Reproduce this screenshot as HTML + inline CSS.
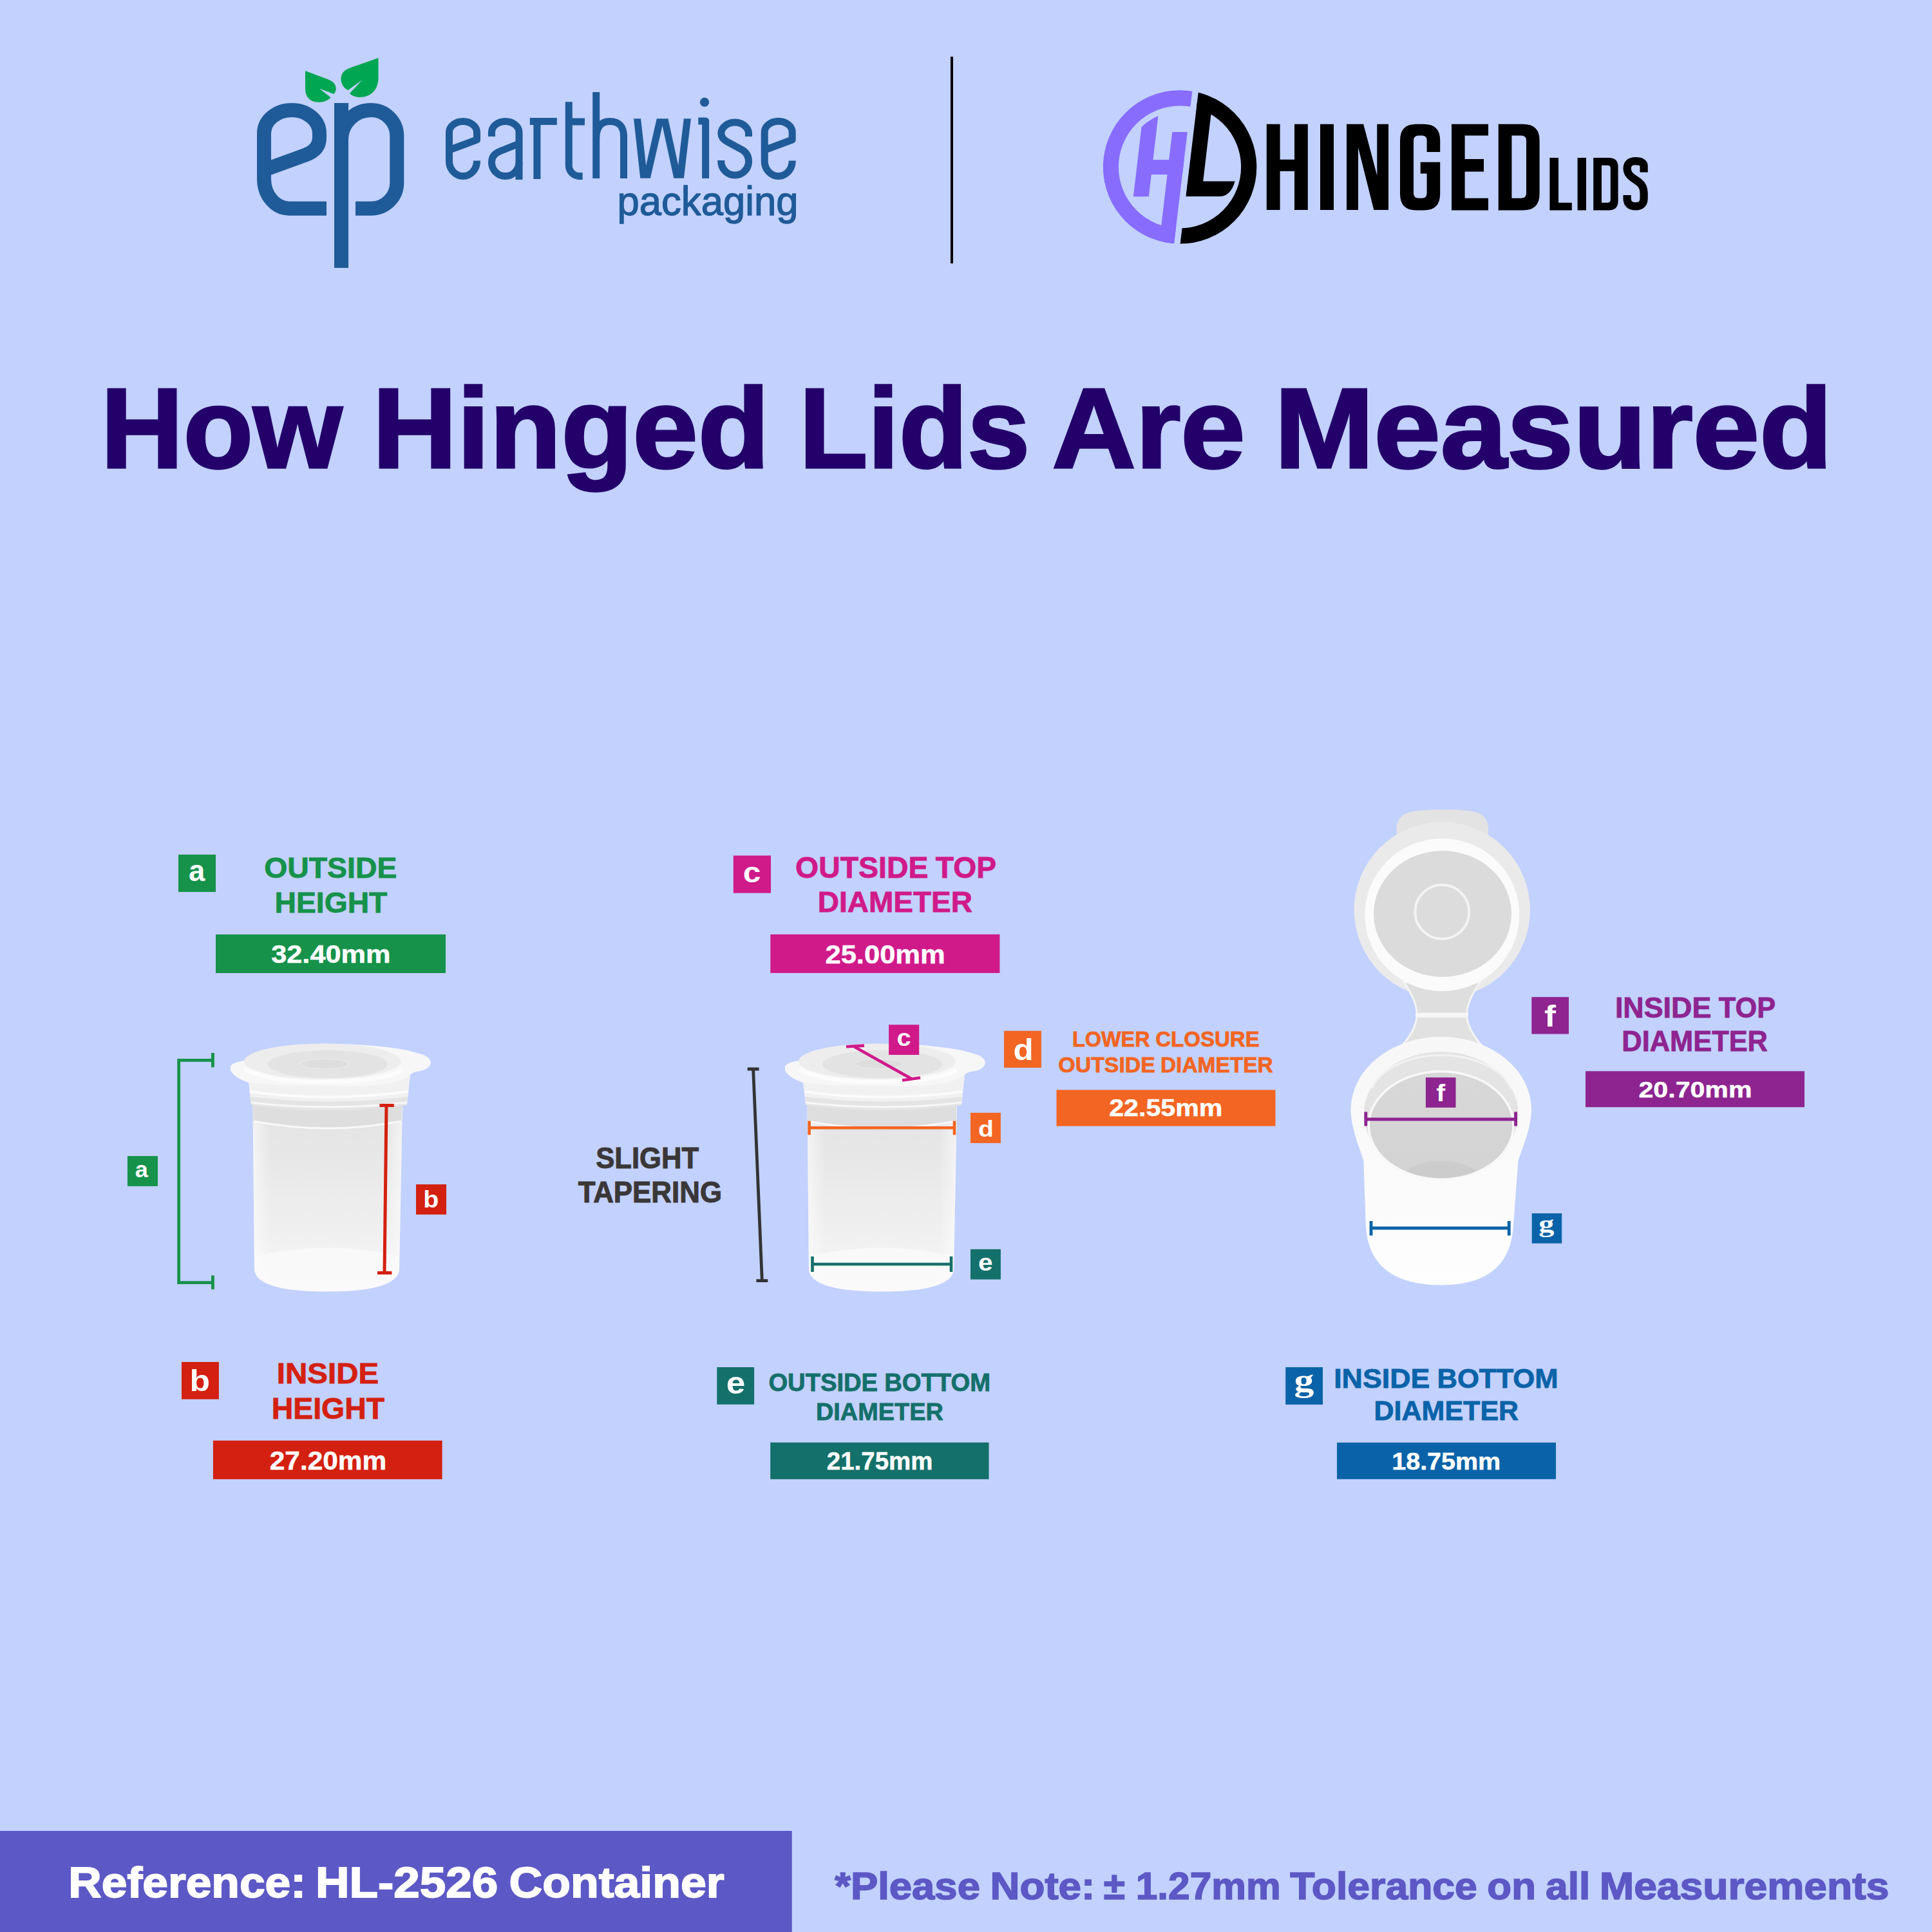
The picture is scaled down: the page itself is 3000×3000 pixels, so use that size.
<!DOCTYPE html><html><head><meta charset="utf-8"><title>How Hinged Lids Are Measured</title><style>html,body{margin:0;padding:0;background:#C2D1FE;overflow:hidden}svg{display:block}text{font-kerning:normal}</style></head><body>
<svg width="3000" height="3000" viewBox="0 0 3000 3000">
<rect x="0" y="0" width="3000" height="3000" fill="#C2D1FE"/>
<!-- ep logo -->
<g id="eplogo">
  <g fill="none" stroke="#1F5B98" stroke-width="22" stroke-linecap="butt" stroke-linejoin="round">
    <path d="M507 323.7 H449 A39 46 0 0 1 410 277.7 V207 A43 36 0 0 1 496 207 V214 Q496 232 476 240 L410 264"/>
    <path d="M552 323.7 H576.3 A40 40 0 0 0 616.3 283.7 V211 A40 40 0 0 0 576.3 171 H576 A46 46 0 0 0 530 217"/>
  </g>
  <rect x="519" y="160" width="22" height="256" fill="#1F5B98"/>
  <g fill="#00A651">
    <path d="M474 110 L511 124 C523 128.5 524 140 518.5 146 L496 137.5 L513.5 151.5 C507 158.5 494 161 484 156.5 C477 152.5 474 146 474 137 Z"/>
    <path d="M587.5 90 V121 C587.5 139 576 151 559 151 C552 151 546 148.5 543 145 L562.5 124 L540.5 140 C531.5 136 528 126 530 118 C532 111 537 107.5 546 104.5 Z"/>
  </g>
</g>
<!-- earthwise -->
<g id="earthwise" fill="none" stroke="#1F5B98" stroke-width="11" stroke-linecap="butt" stroke-linejoin="round">
  <path d="M740.5 249.5 V250 A21.5 23.5 0 0 1 719 273.5 A21.5 23.5 0 0 1 697.5 250 V205.5 A21.5 17 0 0 1 740.5 205.5 V217 L697.5 233"/>
  <path d="M763.5 212 V205.5 A21.2 17 0 0 1 806 205.5 V279"/>
  <path d="M806 223 L776 235 Q763.5 240 763.5 252 A21 21.5 0 0 0 785 273.5 A21 22 0 0 0 806 252"/>
  <path d="M822.8 188.5 H864.8 M833.9 183 V278"/>
  <path d="M883.3 158.3 V257 A16.5 16.5 0 0 0 899.8 273.5 H904.6 M883.3 189 H908"/>
  <path d="M925.7 143 V277 M925.7 216 Q925.7 188.5 947 188.5 Q968.5 188.5 968.5 212 V277"/>
  <g clip-path="url(#wclip)"><path d="M988 170 L1001.2 290 L1028.7 170 L1054.8 290 L1069 170" stroke-linejoin="miter"/></g>
  <path d="M1084.3 188 H1095.6 V277"/>
  <path d="M1162.5 212 V206.5 A21.4 17.7 0 0 0 1119.8 206.5 Q1119.8 215 1129 220 L1153 233 Q1162.5 239 1162.5 251 V252 A21.4 21.5 0 0 1 1119.8 252 V249"/>
  <path d="M1230.2 249.5 V250 A21.5 23.5 0 0 1 1208.7 273.5 A21.5 23.5 0 0 1 1187.2 250 V205.3 A21.5 17 0 0 1 1230.2 205.3 V217 L1187.2 233"/>
</g>
<circle cx="1094" cy="158.7" r="7.1" fill="#1F5B98"/>
<clipPath id="wclip"><rect x="970" y="184.3" width="120" height="92.4"/></clipPath>
<!-- divider -->
<rect x="1476" y="88" width="4" height="321" fill="#000"/>
<!-- HL logo -->
<clipPath id="hlleft"><path d="M1600 100 L1856.35 100 L1820.46 400 L1600 400 Z"/></clipPath>
<clipPath id="hlright"><path d="M1865.95 100 L2000 100 L2000 400 L1830.06 400 Z"/></clipPath>
<clipPath id="hlouter"><circle cx="1832" cy="259.3" r="119.3"/></clipPath>
<clipPath id="hlinner"><circle cx="1832" cy="259.3" r="86"/><rect x="1700" y="259" width="200" height="100"/></clipPath>
<g clip-path="url(#hlleft)">
 <g clip-path="url(#hlouter)" fill="#876CFE">
  <circle cx="1832" cy="259.3" r="107.2" fill="none" stroke="#876CFE" stroke-width="24.2"/>
  <path d="M1759.9 305.2 L1783.8 305.2 L1798.6 178.8 L1774.7 178.8 Z" clip-path="url(#hlinner)"/>
  <rect x="1770" y="248.2" width="80" height="22.8"/>
  <path d="M1820.3 205 L1900 205 L1900 390 L1798.6 390 Z"/>
 </g>
</g>
<g clip-path="url(#hlright)" fill="#000">
  <circle cx="1832" cy="259.3" r="107.2" fill="none" stroke="#000" stroke-width="24.2"/>
  <path d="M1820 160 L1882.5 160 L1868.2 281.4 L1917.6 281.4 Q1911 305.1 1893 305.1 L1820 305.1 Z"/>
</g>
<!-- HINGED LIDS -->
<g fill="#000">
  <path d="M1966.8 192.8 H1987.6 V247.7 H2010 V192.8 H2030.8 V326 H2010 V265.7 H1987.6 V326 H1966.8 Z"/>
  <rect x="2050" y="192.8" width="21" height="133.2"/>
  <path d="M2091 192.8 H2117.1 L2138.3 272.5 V192.8 H2156 V326 H2133.3 L2109 229 V326 H2091 Z"/>
  <path d="M2199 192.8 H2211 Q2236.2 192.8 2236.2 218 V236 H2215.6 V218 Q2215.6 210.5 2208 210.5 H2203 Q2195 210.5 2195 218 V300 Q2195 307.8 2203 307.8 H2208 Q2215.6 307.8 2215.6 300 V269.5 H2205.7 V251.8 H2236.2 V301 Q2236.2 326.5 2211 326.5 H2199 Q2174 326.5 2174 301 V218 Q2174 192.8 2199 192.8 Z"/>
  <path d="M2254 192.8 H2311 V210.5 H2274.6 V246.9 H2304 V266.5 H2274.6 V307.8 H2311 V326.5 H2254 Z"/>
  <path fill-rule="evenodd" d="M2326.7 192.8 H2365 Q2390.6 192.8 2390.6 218 V301 Q2390.6 326.5 2365 326.5 H2326.7 Z M2347.4 210.5 V307.8 H2362 Q2370 307.8 2370 300 V218 Q2370 210.5 2362 210.5 Z"/>
  <path d="M2406.4 245 H2420 V314.7 H2440.8 V326.5 H2406.4 Z"/>
  <rect x="2449.6" y="245" width="13.4" height="81.5"/>
  <path fill-rule="evenodd" d="M2474.2 245 H2498 Q2512.6 245 2512.6 259 V312 Q2512.6 326.5 2498 326.5 H2474.2 Z M2487 256.7 V314.7 H2496 Q2500.8 314.7 2500.8 310 V261 Q2500.8 256.7 2496 256.7 Z"/>
</g>
<path d="M2552.6 267.5 V258 Q2552.6 250.2 2539.6 250.2 Q2526.6 250.2 2526.6 262 Q2526.6 270 2535 276 L2545 283 Q2552.6 289 2552.6 300 V308 Q2552.6 320.3 2539.6 320.3 Q2526.6 320.3 2526.6 308 V303" fill="none" stroke="#000" stroke-width="12.3"/>
<defs>
  <linearGradient id="bodyg" x1="0" y1="0" x2="0" y2="1">
    <stop offset="0" stop-color="#E3E3E3"/>
    <stop offset="0.3" stop-color="#E8E8E8"/>
    <stop offset="0.7" stop-color="#F0F0F0"/>
    <stop offset="1" stop-color="#F8F8F8"/>
  </linearGradient>
  <linearGradient id="bodyh" x1="0" y1="0" x2="1" y2="0">
    <stop offset="0" stop-color="#FFFFFF" stop-opacity="0.55"/>
    <stop offset="0.12" stop-color="#FFFFFF" stop-opacity="0"/>
    <stop offset="0.88" stop-color="#FFFFFF" stop-opacity="0"/>
    <stop offset="1" stop-color="#FFFFFF" stop-opacity="0.55"/>
  </linearGradient>
  <linearGradient id="c3body" x1="0" y1="0" x2="0" y2="1">
    <stop offset="0" stop-color="#F7F7F7"/>
    <stop offset="0.5" stop-color="#FAFAFA"/>
    <stop offset="1" stop-color="#FEFEFE"/>
  </linearGradient>
  <linearGradient id="c3in" x1="0" y1="0" x2="0" y2="1">
    <stop offset="0" stop-color="#D8D8D8"/>
    <stop offset="1" stop-color="#D3D3D3"/>
  </linearGradient>
</defs>
<g id="cont1">
  <path d="M392.5 1718 L395 1971 Q398 2005.5 508 2005.5 Q617 2005.5 620 1971 L625 1718 Z" fill="url(#bodyg)"/>
  <path d="M392.5 1718 L395 1971 Q398 2005.5 508 2005.5 Q617 2005.5 620 1971 L625 1718 Z" fill="url(#bodyh)"/>
  <path d="M398 1950 Q508 1925 618 1950 L620 1971 Q617 2005.5 508 2005.5 Q398 2005.5 395 1971 Z" fill="#FAFAFA" opacity="0.8"/>
  <path d="M393 1712 L624 1712 L624 1742 Q508 1764 393 1742 Z" fill="#DEDEDE"/>
  <path d="M394 1741 Q508 1763 623 1741" fill="none" stroke="#F8F8F8" stroke-width="3"/>
  <path d="M385.3 1675 L637 1670 L632 1716 Q508 1731 390 1716 Z" fill="#F1F1F1"/>
  <path d="M389 1703 Q508 1718 633 1703 L632 1716 Q508 1731 390 1716 Z" fill="#E4E4E4"/>
  <path d="M388 1695 Q508 1712 634 1695" fill="none" stroke="#FBFBFB" stroke-width="4"/>
  <path d="M390 1712 Q508 1726 632 1712" fill="none" stroke="#F7F7F7" stroke-width="3"/>
  <path d="M358 1656 Q360 1650 379 1647 Q420 1622 503 1620.8 Q580 1621 631.7 1630.8 L655 1637 Q668.8 1642 668.8 1651 Q667 1662 645 1664.3 L639 1667 Q620 1690 503 1686 Q420 1686 384 1680.6 Q362 1672 358 1662 Z" fill="#F7F7F7"/>
  <ellipse cx="500.8" cy="1648" rx="121.8" ry="27.6" fill="#EDEDED"/>
  <ellipse cx="509" cy="1652.5" rx="93" ry="21.7" fill="#E3E3E3"/>
  <ellipse cx="504" cy="1652" rx="37" ry="7.7" fill="#DDDDDD" stroke="#E9E9E9" stroke-width="1.5"/>
  <path d="M380 1660 Q420 1681 503 1680 Q590 1680 625 1662" fill="none" stroke="#FCFCFC" stroke-width="6"/>
</g>
<use href="#cont1" x="861" y="0"/>
<g id="cont3">
  <path d="M2168.5 1310 V1285 Q2170 1262 2200 1259 Q2240 1255 2280 1259 Q2310 1262 2311 1285 V1310 Z" fill="#E3E3E3"/>
  <circle cx="2239.3" cy="1413" r="136.7" fill="#EAEAEA"/>
  <path d="M2180 1525 Q2200 1555 2200 1574 L2277.7 1574 Q2278 1555 2298 1525 Z" fill="#DEDEDE" stroke="#F4F4F4" stroke-width="3"/>
  <path d="M2200 1579 Q2198 1600 2176 1625 L2302 1625 Q2280 1600 2277.7 1579 Z" fill="#E1E1E1" stroke="#F4F4F4" stroke-width="3"/>
  <rect x="2198" y="1573" width="82" height="6" fill="#F6F6F6"/>
  <ellipse cx="2239.3" cy="1420.5" rx="120" ry="118.5" fill="#FBFBFB"/>
  <ellipse cx="2240" cy="1419" rx="107" ry="98" fill="#DBDBDB"/>
  <circle cx="2239.3" cy="1416" r="42" fill="#DCDCDC" stroke="#F3F3F3" stroke-width="4"/>
  <path d="M2097.5 1723 A140 113 0 0 1 2378 1723 C2378 1750 2365 1780 2357.5 1802 L2350 1902 Q2345 1995.5 2238.4 1995.5 Q2125 1995.5 2120.8 1902 L2117.3 1802 C2110 1780 2097.5 1750 2097.5 1723 Z" fill="url(#c3body)"/>
  <ellipse cx="2237.7" cy="1730" rx="120" ry="97" fill="#E4E4E4"/>
  <path d="M2130 1690 A112 70 0 0 1 2346 1690" fill="none" stroke="#F2F2F2" stroke-width="3"/>
  <clipPath id="c3open"><ellipse cx="2237.7" cy="1747.5" rx="112.3" ry="83.8"/></clipPath>
  <ellipse cx="2237.7" cy="1747.5" rx="112.3" ry="83.8" fill="url(#c3in)"/>
  <g clip-path="url(#c3open)"><ellipse cx="2238" cy="1830" rx="60" ry="27" fill="#CCCCCC"/></g>
  <ellipse cx="2237.7" cy="1747.5" rx="112.3" ry="83.8" fill="none" stroke="#F8F8F8" stroke-width="3.5"/>
</g>
<!-- bars -->
<rect x="335" y="1451" width="357" height="60" fill="#16924A"/>
<rect x="330.9" y="2236.9" width="355.7" height="60" fill="#D42010"/>
<rect x="1196.3" y="1450.9" width="356.1" height="60" fill="#D01A8A"/>
<rect x="1640.5" y="1692.4" width="340" height="56.2" fill="#F26522"/>
<rect x="1196.2" y="2239.9" width="339.3" height="57" fill="#14706A"/>
<rect x="2462" y="1663.3" width="340" height="55.9" fill="#8E2490"/>
<rect x="2076" y="2240" width="340" height="56.8" fill="#0A63A8"/>
<!-- badges -->
<rect x="277" y="1327" width="58" height="58" fill="#16924A"/>
<rect x="282" y="2114.9" width="57.9" height="57.8" fill="#D42010"/>
<rect x="1138.8" y="1328.5" width="58.2" height="58.2" fill="#D01A8A"/>
<rect x="1559" y="1600.7" width="57.9" height="57.2" fill="#F26522"/>
<rect x="1113.3" y="2123" width="57.8" height="57.8" fill="#14706A"/>
<rect x="2378.3" y="1548.2" width="57.7" height="57.4" fill="#8E2490"/>
<rect x="1996.2" y="2123" width="57.8" height="58" fill="#0A63A8"/>
<rect x="197.9" y="1795.1" width="47.1" height="46.8" fill="#16924A"/>
<rect x="646" y="1839.1" width="47" height="46.8" fill="#D42010"/>
<rect x="1380.1" y="1591.2" width="47.1" height="46.8" fill="#D01A8A"/>
<rect x="1507" y="1727.9" width="46.9" height="47.1" fill="#F26522"/>
<rect x="1507" y="1939.8" width="46.9" height="46.9" fill="#14706A"/>
<rect x="2213.9" y="1673.1" width="46.6" height="46.7" fill="#8E2490"/>
<rect x="2378.7" y="1884.1" width="46.5" height="46.6" fill="#0A63A8"/>
<!-- measurement lines -->
<g fill="none" stroke-linecap="butt">
  <path d="M330.4 1646.45 H277.6 V1991.6 H330.4" stroke="#16924A" stroke-width="4.8"/>
  <path d="M330.4 1634.9 V1657.3 M330.4 1980.6 V2002" stroke="#16924A" stroke-width="4.8"/>
  <path d="M600 1716.6 L597 1976.5" stroke="#D42010" stroke-width="5"/>
  <path d="M589.4 1716.6 H611.8 M586 1976.5 H608.4" stroke="#D42010" stroke-width="5"/>
  <path d="M1326.8 1625.4 L1415.6 1675.2" stroke="#D01A8A" stroke-width="4.6"/>
  <path d="M1314 1625.2 L1342 1623.6 M1401 1677.6 L1429 1673.4" stroke="#D01A8A" stroke-width="4.6"/>
  <path d="M1256 1751.3 H1483" stroke="#F26522" stroke-width="4.6"/>
  <path d="M1256.6 1740.4 V1762.2 M1482 1740.4 V1762.2" stroke="#F26522" stroke-width="4.6"/>
  <path d="M1261 1963 H1478" stroke="#14706A" stroke-width="4.6"/>
  <path d="M1261.5 1951 V1975 M1477 1951 V1975" stroke="#14706A" stroke-width="4.6"/>
  <path d="M1169.6 1660 L1183.3 1988.6" stroke="#333333" stroke-width="4.8"/>
  <path d="M1160.7 1660 H1178.6 M1174.4 1988.6 H1192.3" stroke="#333333" stroke-width="4.8"/>
  <path d="M2120.8 1738 H2354" stroke="#8E2490" stroke-width="5"/>
  <path d="M2120.8 1726.5 V1748.6 M2353.6 1726.5 V1748.6" stroke="#8E2490" stroke-width="4.8"/>
  <path d="M2129 1907 H2343.5" stroke="#0A63A8" stroke-width="5"/>
  <path d="M2129 1896 V1918.6 M2343.2 1896 V1918.6" stroke="#0A63A8" stroke-width="4.8"/>
</g>
<!-- footer -->
<rect x="0" y="2843" width="1229.7" height="157" fill="#5C58C5"/>

<text id="t_tw1" x="156.62" y="726.25" font-family="&quot;Liberation Sans&quot;, sans-serif" font-weight="bold" font-size="176.602" fill="#23006A" stroke="#23006A" stroke-width="3.5" stroke-linejoin="miter" stroke-miterlimit="2" textLength="374.73" lengthAdjust="spacingAndGlyphs" xml:space="preserve">How</text>
<text id="t_tw2" x="578.31" y="726.25" font-family="&quot;Liberation Sans&quot;, sans-serif" font-weight="bold" font-size="176.602" fill="#23006A" stroke="#23006A" stroke-width="3.5" stroke-linejoin="miter" stroke-miterlimit="2" textLength="616.71" lengthAdjust="spacingAndGlyphs" xml:space="preserve">Hinged</text>
<text id="t_tw3" x="1241.05" y="726.25" font-family="&quot;Liberation Sans&quot;, sans-serif" font-weight="bold" font-size="176.602" fill="#23006A" stroke="#23006A" stroke-width="3.5" stroke-linejoin="miter" stroke-miterlimit="2" textLength="358.17" lengthAdjust="spacingAndGlyphs" xml:space="preserve">Lids</text>
<text id="t_tw4" x="1633.81" y="726.25" font-family="&quot;Liberation Sans&quot;, sans-serif" font-weight="bold" font-size="176.602" fill="#23006A" stroke="#23006A" stroke-width="3.5" stroke-linejoin="miter" stroke-miterlimit="2" textLength="299.65" lengthAdjust="spacingAndGlyphs" xml:space="preserve">Are</text>
<text id="t_tw5" x="1979.06" y="726.25" font-family="&quot;Liberation Sans&quot;, sans-serif" font-weight="bold" font-size="176.602" fill="#23006A" stroke="#23006A" stroke-width="3.5" stroke-linejoin="miter" stroke-miterlimit="2" textLength="866.30" lengthAdjust="spacingAndGlyphs" xml:space="preserve">Measured</text>
<text id="t_a1" x="410.27" y="1362.50" font-family="&quot;Liberation Sans&quot;, sans-serif" font-weight="bold" font-size="44.768" fill="#16924A" stroke="#16924A" stroke-width="0.8" stroke-linejoin="miter" stroke-miterlimit="2" textLength="206.04" lengthAdjust="spacingAndGlyphs" xml:space="preserve">OUTSIDE</text>
<text id="t_a2" x="426.52" y="1416.60" font-family="&quot;Liberation Sans&quot;, sans-serif" font-weight="bold" font-size="45.059" fill="#16924A" stroke="#16924A" stroke-width="0.8" stroke-linejoin="miter" stroke-miterlimit="2" textLength="174.88" lengthAdjust="spacingAndGlyphs" xml:space="preserve">HEIGHT</text>
<text id="t_a3" x="421.24" y="1494.95" font-family="&quot;Liberation Sans&quot;, sans-serif" font-weight="bold" font-size="39.671" fill="#FFFFFF" stroke="#FFFFFF" stroke-width="0.5" stroke-linejoin="miter" stroke-miterlimit="2" textLength="185.23" lengthAdjust="spacingAndGlyphs" xml:space="preserve">32.40mm</text>
<text id="t_ab" x="293.01" y="1368.15" font-family="&quot;Liberation Sans&quot;, sans-serif" font-weight="bold" font-size="46.363" fill="#FFFFFF" textLength="25.25" lengthAdjust="spacingAndGlyphs" xml:space="preserve">a</text>
<text id="t_b1" x="429.86" y="2148.40" font-family="&quot;Liberation Sans&quot;, sans-serif" font-weight="bold" font-size="45.059" fill="#D42010" stroke="#D42010" stroke-width="0.8" stroke-linejoin="miter" stroke-miterlimit="2" textLength="158.26" lengthAdjust="spacingAndGlyphs" xml:space="preserve">INSIDE</text>
<text id="t_b2" x="421.76" y="2202.60" font-family="&quot;Liberation Sans&quot;, sans-serif" font-weight="bold" font-size="45.350" fill="#D42010" stroke="#D42010" stroke-width="0.8" stroke-linejoin="miter" stroke-miterlimit="2" textLength="175.33" lengthAdjust="spacingAndGlyphs" xml:space="preserve">HEIGHT</text>
<text id="t_b3" x="418.69" y="2282.35" font-family="&quot;Liberation Sans&quot;, sans-serif" font-weight="bold" font-size="40.244" fill="#FFFFFF" stroke="#FFFFFF" stroke-width="0.5" stroke-linejoin="miter" stroke-miterlimit="2" textLength="181.64" lengthAdjust="spacingAndGlyphs" xml:space="preserve">27.20mm</text>
<text id="t_bb" x="294.53" y="2160.35" font-family="&quot;Liberation Sans&quot;, sans-serif" font-weight="bold" font-size="46.026" fill="#FFFFFF" textLength="31.49" lengthAdjust="spacingAndGlyphs" xml:space="preserve">b</text>
<text id="t_c1a" x="1235.10" y="1362.60" font-family="&quot;Liberation Sans&quot;, sans-serif" font-weight="bold" font-size="45.495" fill="#D01A8A" stroke="#D01A8A" stroke-width="0.8" stroke-linejoin="miter" stroke-miterlimit="2" textLength="206.27" lengthAdjust="spacingAndGlyphs" xml:space="preserve">OUTSIDE</text>
<text id="t_c1b" x="1452.87" y="1362.60" font-family="&quot;Liberation Sans&quot;, sans-serif" font-weight="bold" font-size="45.495" fill="#D01A8A" stroke="#D01A8A" stroke-width="0.8" stroke-linejoin="miter" stroke-miterlimit="2" textLength="94.07" lengthAdjust="spacingAndGlyphs" xml:space="preserve">TOP</text>
<text id="t_c2" x="1269.83" y="1416.30" font-family="&quot;Liberation Sans&quot;, sans-serif" font-weight="bold" font-size="44.768" fill="#D01A8A" stroke="#D01A8A" stroke-width="0.8" stroke-linejoin="miter" stroke-miterlimit="2" textLength="240.09" lengthAdjust="spacingAndGlyphs" xml:space="preserve">DIAMETER</text>
<text id="t_c3" x="1281.48" y="1496.45" font-family="&quot;Liberation Sans&quot;, sans-serif" font-weight="bold" font-size="40.817" fill="#FFFFFF" stroke="#FFFFFF" stroke-width="0.5" stroke-linejoin="miter" stroke-miterlimit="2" textLength="186.26" lengthAdjust="spacingAndGlyphs" xml:space="preserve">25.00mm</text>
<text id="t_cb" x="1153.68" y="1369.98" font-family="&quot;Liberation Sans&quot;, sans-serif" font-weight="bold" font-size="43.442" fill="#FFFFFF" textLength="27.65" lengthAdjust="spacingAndGlyphs" xml:space="preserve">c</text>
<text id="t_d1a" x="1665.08" y="1625.40" font-family="&quot;Liberation Sans&quot;, sans-serif" font-weight="bold" font-size="33.722" fill="#F26522" stroke="#F26522" stroke-width="0.8" stroke-linejoin="miter" stroke-miterlimit="2" textLength="120.50" lengthAdjust="spacingAndGlyphs" xml:space="preserve">LOWER</text>
<text id="t_d1b" x="1794.14" y="1625.40" font-family="&quot;Liberation Sans&quot;, sans-serif" font-weight="bold" font-size="33.722" fill="#F26522" stroke="#F26522" stroke-width="0.8" stroke-linejoin="miter" stroke-miterlimit="2" textLength="161.58" lengthAdjust="spacingAndGlyphs" xml:space="preserve">CLOSURE</text>
<text id="t_d2a" x="1643.32" y="1664.60" font-family="&quot;Liberation Sans&quot;, sans-serif" font-weight="bold" font-size="33.722" fill="#F26522" stroke="#F26522" stroke-width="0.8" stroke-linejoin="miter" stroke-miterlimit="2" textLength="150.61" lengthAdjust="spacingAndGlyphs" xml:space="preserve">OUTSIDE</text>
<text id="t_d2b" x="1801.93" y="1664.60" font-family="&quot;Liberation Sans&quot;, sans-serif" font-weight="bold" font-size="33.722" fill="#F26522" stroke="#F26522" stroke-width="0.8" stroke-linejoin="miter" stroke-miterlimit="2" textLength="174.84" lengthAdjust="spacingAndGlyphs" xml:space="preserve">DIAMETER</text>
<text id="t_d3" x="1722.17" y="1733.35" font-family="&quot;Liberation Sans&quot;, sans-serif" font-weight="bold" font-size="36.807" fill="#FFFFFF" stroke="#FFFFFF" stroke-width="0.5" stroke-linejoin="miter" stroke-miterlimit="2" textLength="176.35" lengthAdjust="spacingAndGlyphs" xml:space="preserve">22.55mm</text>
<text id="t_db" x="1573.51" y="1645.55" font-family="&quot;Liberation Sans&quot;, sans-serif" font-weight="bold" font-size="46.298" fill="#FFFFFF" textLength="31.25" lengthAdjust="spacingAndGlyphs" xml:space="preserve">d</text>
<text id="t_e1a" x="1193.40" y="2160.40" font-family="&quot;Liberation Sans&quot;, sans-serif" font-weight="bold" font-size="38.082" fill="#14706A" stroke="#14706A" stroke-width="0.8" stroke-linejoin="miter" stroke-miterlimit="2" textLength="169.67" lengthAdjust="spacingAndGlyphs" xml:space="preserve">OUTSIDE</text>
<text id="t_e1b" x="1373.20" y="2160.40" font-family="&quot;Liberation Sans&quot;, sans-serif" font-weight="bold" font-size="38.082" fill="#14706A" stroke="#14706A" stroke-width="0.8" stroke-linejoin="miter" stroke-miterlimit="2" textLength="164.90" lengthAdjust="spacingAndGlyphs" xml:space="preserve">BOTTOM</text>
<text id="t_e2" x="1266.99" y="2205.40" font-family="&quot;Liberation Sans&quot;, sans-serif" font-weight="bold" font-size="37.210" fill="#14706A" stroke="#14706A" stroke-width="0.8" stroke-linejoin="miter" stroke-miterlimit="2" textLength="197.79" lengthAdjust="spacingAndGlyphs" xml:space="preserve">DIAMETER</text>
<text id="t_e3" x="1283.86" y="2282.35" font-family="&quot;Liberation Sans&quot;, sans-serif" font-weight="bold" font-size="38.955" fill="#FFFFFF" stroke="#FFFFFF" stroke-width="0.5" stroke-linejoin="miter" stroke-miterlimit="2" textLength="164.47" lengthAdjust="spacingAndGlyphs" xml:space="preserve">21.75mm</text>
<text id="t_eb" x="1127.83" y="2164.44" font-family="&quot;Liberation Sans&quot;, sans-serif" font-weight="bold" font-size="47.458" fill="#FFFFFF" textLength="29.55" lengthAdjust="spacingAndGlyphs" xml:space="preserve">e</text>
<text id="t_f1a" x="2507.93" y="1579.50" font-family="&quot;Liberation Sans&quot;, sans-serif" font-weight="bold" font-size="43.605" fill="#8E2490" stroke="#8E2490" stroke-width="0.8" stroke-linejoin="miter" stroke-miterlimit="2" textLength="149.35" lengthAdjust="spacingAndGlyphs" xml:space="preserve">INSIDE</text>
<text id="t_f1b" x="2668.84" y="1579.50" font-family="&quot;Liberation Sans&quot;, sans-serif" font-weight="bold" font-size="43.605" fill="#8E2490" stroke="#8E2490" stroke-width="0.8" stroke-linejoin="miter" stroke-miterlimit="2" textLength="88.29" lengthAdjust="spacingAndGlyphs" xml:space="preserve">TOP</text>
<text id="t_f2" x="2518.29" y="1631.60" font-family="&quot;Liberation Sans&quot;, sans-serif" font-weight="bold" font-size="43.896" fill="#8E2490" stroke="#8E2490" stroke-width="0.8" stroke-linejoin="miter" stroke-miterlimit="2" textLength="226.67" lengthAdjust="spacingAndGlyphs" xml:space="preserve">DIAMETER</text>
<text id="t_f3" x="2544.49" y="1704.05" font-family="&quot;Liberation Sans&quot;, sans-serif" font-weight="bold" font-size="35.947" fill="#FFFFFF" stroke="#FFFFFF" stroke-width="0.5" stroke-linejoin="miter" stroke-miterlimit="2" textLength="175.98" lengthAdjust="spacingAndGlyphs" xml:space="preserve">20.70mm</text>
<text id="t_fb" x="2398.06" y="1594.00" font-family="&quot;Liberation Sans&quot;, sans-serif" font-weight="bold" font-size="46.922" fill="#FFFFFF" textLength="17.98" lengthAdjust="spacingAndGlyphs" xml:space="preserve">f</text>
<text id="t_g1a" x="2071.19" y="2154.50" font-family="&quot;Liberation Sans&quot;, sans-serif" font-weight="bold" font-size="42.297" fill="#0A63A8" stroke="#0A63A8" stroke-width="0.8" stroke-linejoin="miter" stroke-miterlimit="2" textLength="149.12" lengthAdjust="spacingAndGlyphs" xml:space="preserve">INSIDE</text>
<text id="t_g1b" x="2231.44" y="2154.50" font-family="&quot;Liberation Sans&quot;, sans-serif" font-weight="bold" font-size="42.297" fill="#0A63A8" stroke="#0A63A8" stroke-width="0.8" stroke-linejoin="miter" stroke-miterlimit="2" textLength="188.09" lengthAdjust="spacingAndGlyphs" xml:space="preserve">BOTTOM</text>
<text id="t_g2" x="2133.57" y="2205.40" font-family="&quot;Liberation Sans&quot;, sans-serif" font-weight="bold" font-size="42.152" fill="#0A63A8" stroke="#0A63A8" stroke-width="0.8" stroke-linejoin="miter" stroke-miterlimit="2" textLength="224.56" lengthAdjust="spacingAndGlyphs" xml:space="preserve">DIAMETER</text>
<text id="t_g3" x="2161.25" y="2282.25" font-family="&quot;Liberation Sans&quot;, sans-serif" font-weight="bold" font-size="36.663" fill="#FFFFFF" stroke="#FFFFFF" stroke-width="0.5" stroke-linejoin="miter" stroke-miterlimit="2" textLength="168.96" lengthAdjust="spacingAndGlyphs" xml:space="preserve">18.75mm</text>
<text id="t_gb" x="2009.53" y="2159.74" font-family="&quot;Liberation Serif&quot;, sans-serif" font-weight="bold" font-size="50.553" fill="#FFFFFF" textLength="30.89" lengthAdjust="spacingAndGlyphs" xml:space="preserve">g</text>
<text id="t_cs" x="1392.48" y="1624.35" font-family="&quot;Liberation Sans&quot;, sans-serif" font-weight="bold" font-size="36.141" fill="#FFFFFF" textLength="22.05" lengthAdjust="spacingAndGlyphs" xml:space="preserve">c</text>
<text id="t_ds" x="1519.13" y="1764.95" font-family="&quot;Liberation Sans&quot;, sans-serif" font-weight="bold" font-size="35.949" fill="#FFFFFF" textLength="23.90" lengthAdjust="spacingAndGlyphs" xml:space="preserve">d</text>
<text id="t_es" x="1518.93" y="1972.74" font-family="&quot;Liberation Sans&quot;, sans-serif" font-weight="bold" font-size="36.689" fill="#FFFFFF" textLength="22.56" lengthAdjust="spacingAndGlyphs" xml:space="preserve">e</text>
<text id="t_fs" x="2230.24" y="1710.00" font-family="&quot;Liberation Sans&quot;, sans-serif" font-weight="bold" font-size="36.847" fill="#FFFFFF" textLength="13.85" lengthAdjust="spacingAndGlyphs" xml:space="preserve">f</text>
<text id="t_gs" x="2389.37" y="1912.92" font-family="&quot;Liberation Serif&quot;, sans-serif" font-weight="bold" font-size="38.426" fill="#FFFFFF" textLength="24.04" lengthAdjust="spacingAndGlyphs" xml:space="preserve">g</text>
<text id="t_as" x="209.77" y="1828.35" font-family="&quot;Liberation Sans&quot;, sans-serif" font-weight="bold" font-size="35.959" fill="#FFFFFF" textLength="20.06" lengthAdjust="spacingAndGlyphs" xml:space="preserve">a</text>
<text id="t_bs" x="657.21" y="1875.45" font-family="&quot;Liberation Sans&quot;, sans-serif" font-weight="bold" font-size="36.221" fill="#FFFFFF" textLength="24.02" lengthAdjust="spacingAndGlyphs" xml:space="preserve">b</text>
<text id="t_t1" x="925.31" y="1814.30" font-family="&quot;Liberation Sans&quot;, sans-serif" font-weight="bold" font-size="47.094" fill="#3A3737" stroke="#3A3737" stroke-width="1.0" stroke-linejoin="miter" stroke-miterlimit="2" textLength="159.82" lengthAdjust="spacingAndGlyphs" xml:space="preserve">SLIGHT</text>
<text id="t_t2" x="897.68" y="1867.20" font-family="&quot;Liberation Sans&quot;, sans-serif" font-weight="bold" font-size="46.076" fill="#3A3737" stroke="#3A3737" stroke-width="1.0" stroke-linejoin="miter" stroke-miterlimit="2" textLength="223.32" lengthAdjust="spacingAndGlyphs" xml:space="preserve">TAPERING</text>
<text id="t_ft1a" x="106.36" y="2946.20" font-family="&quot;Liberation Sans&quot;, sans-serif" font-weight="bold" font-size="67.298" fill="#FFFFFF" stroke="#FFFFFF" stroke-width="1.8" stroke-linejoin="miter" stroke-miterlimit="2" textLength="368.64" lengthAdjust="spacingAndGlyphs" xml:space="preserve">Reference:</text>
<text id="t_ft1b" x="490.01" y="2946.20" font-family="&quot;Liberation Sans&quot;, sans-serif" font-weight="bold" font-size="67.298" fill="#FFFFFF" stroke="#FFFFFF" stroke-width="1.8" stroke-linejoin="miter" stroke-miterlimit="2" textLength="283.38" lengthAdjust="spacingAndGlyphs" xml:space="preserve">HL-2526</text>
<text id="t_ft1c" x="790.59" y="2946.20" font-family="&quot;Liberation Sans&quot;, sans-serif" font-weight="bold" font-size="67.298" fill="#FFFFFF" stroke="#FFFFFF" stroke-width="1.8" stroke-linejoin="miter" stroke-miterlimit="2" textLength="333.96" lengthAdjust="spacingAndGlyphs" xml:space="preserve">Container</text>
<text id="t_ft2a" x="1296.22" y="2949.20" font-family="&quot;Liberation Sans&quot;, sans-serif" font-weight="bold" font-size="60.030" fill="#5C58C5" stroke="#5C58C5" stroke-width="1.6" stroke-linejoin="miter" stroke-miterlimit="2" textLength="225.69" lengthAdjust="spacingAndGlyphs" xml:space="preserve">*Please</text>
<text id="t_ft2b" x="1537.58" y="2949.20" font-family="&quot;Liberation Sans&quot;, sans-serif" font-weight="bold" font-size="60.030" fill="#5C58C5" stroke="#5C58C5" stroke-width="1.6" stroke-linejoin="miter" stroke-miterlimit="2" textLength="162.61" lengthAdjust="spacingAndGlyphs" xml:space="preserve">Note:</text>
<text id="t_ft2c" x="1713.83" y="2949.20" font-family="&quot;Liberation Sans&quot;, sans-serif" font-weight="bold" font-size="60.030" fill="#5C58C5" stroke="#5C58C5" stroke-width="1.6" stroke-linejoin="miter" stroke-miterlimit="2" textLength="274.85" lengthAdjust="spacingAndGlyphs" xml:space="preserve">± 1.27mm</text>
<text id="t_ft2d" x="2003.27" y="2949.20" font-family="&quot;Liberation Sans&quot;, sans-serif" font-weight="bold" font-size="60.030" fill="#5C58C5" stroke="#5C58C5" stroke-width="1.6" stroke-linejoin="miter" stroke-miterlimit="2" textLength="290.58" lengthAdjust="spacingAndGlyphs" xml:space="preserve">Tolerance</text>
<text id="t_ft2e" x="2309.38" y="2949.20" font-family="&quot;Liberation Sans&quot;, sans-serif" font-weight="bold" font-size="60.030" fill="#5C58C5" stroke="#5C58C5" stroke-width="1.6" stroke-linejoin="miter" stroke-miterlimit="2" textLength="75.51" lengthAdjust="spacingAndGlyphs" xml:space="preserve">on</text>
<text id="t_ft2f" x="2400.00" y="2949.20" font-family="&quot;Liberation Sans&quot;, sans-serif" font-weight="bold" font-size="60.030" fill="#5C58C5" stroke="#5C58C5" stroke-width="1.6" stroke-linejoin="miter" stroke-miterlimit="2" textLength="69.27" lengthAdjust="spacingAndGlyphs" xml:space="preserve">all</text>
<text id="t_ft2g" x="2483.66" y="2949.20" font-family="&quot;Liberation Sans&quot;, sans-serif" font-weight="bold" font-size="60.030" fill="#5C58C5" stroke="#5C58C5" stroke-width="1.6" stroke-linejoin="miter" stroke-miterlimit="2" textLength="449.72" lengthAdjust="spacingAndGlyphs" xml:space="preserve">Measurements</text>
<text id="t_pk" x="958.56" y="333.85" font-family="&quot;Liberation Sans&quot;, sans-serif" font-weight="normal" font-size="62.273" fill="#1F5B98" stroke="#1F5B98" stroke-width="1.3" stroke-linejoin="miter" stroke-miterlimit="2" textLength="280.85" lengthAdjust="spacingAndGlyphs" xml:space="preserve">packaging</text>
</svg></body></html>
